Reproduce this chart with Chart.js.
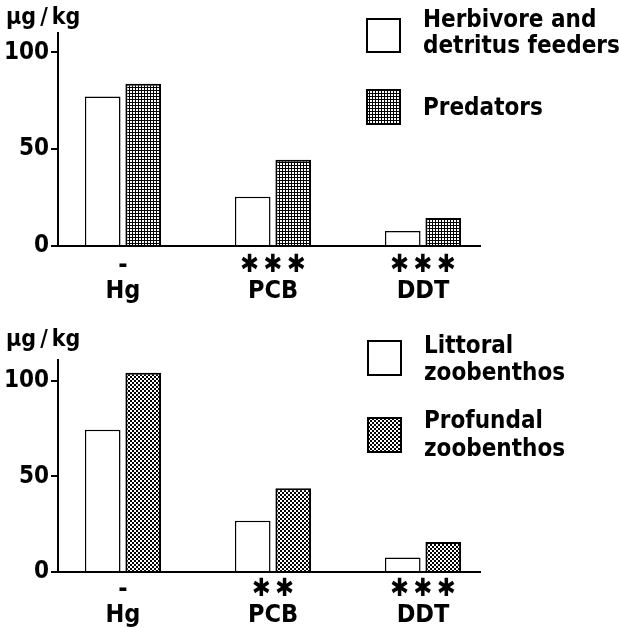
<!DOCTYPE html>
<html><head><meta charset="utf-8">
<script src="https://cdn.jsdelivr.net/npm/chart.js@4.4.1/dist/chart.umd.min.js"></script>
<style>html,body{margin:0;padding:0;background:#fff;} .w{position:relative;width:619px;height:314px;} canvas{display:block}</style>
</head><body>
<div class="w"><canvas id="c1" width="619" height="314"></canvas></div>
<div class="w"><canvas id="c2" width="619" height="314"></canvas></div>
<script>
// ---- data ----
const categories = ['Hg', 'PCB', 'DDT'];
const topSignificance = ['-', '✱\u2009✱\u2009✱', '✱\u2009✱\u2009✱'];
const bottomSignificance = ['-', '✱\u2009✱', '✱\u2009✱\u2009✱'];
const herbivoreValues = [77.2, 25.4, 7.8];
const predatorValues = [83.8, 44.5, 14.5];
const littoralValues = [74.4, 26.8, 7.6];
const profundalValues = [104.3, 43.9, 15.7];
const yTickValues = [0, 50, 100];
const unitLabel = 'µg\u2009/\u2009kg';
const topLegendLines = [['Herbivore and', 'detritus feeders'], ['Predators']];
const bottomLegendLines = [['Littoral', 'zoobenthos'], ['Profundal', 'zoobenthos']];

const FONT = "'DejaVu Sans Condensed', 'DejaVu Sans', sans-serif";

function gridPattern() {
  const c = document.createElement('canvas'); c.width = 3; c.height = 3;
  const x = c.getContext('2d');
  x.fillStyle = '#fff'; x.fillRect(0, 0, 3, 3);
  x.fillStyle = '#000'; x.fillRect(0, 0, 3, 1); x.fillRect(0, 0, 1, 3);
  return x.createPattern(c, 'repeat');
}
function dotPattern() {
  const c = document.createElement('canvas'); c.width = 4; c.height = 4;
  const x = c.getContext('2d');
  x.fillStyle = '#fff'; x.fillRect(0, 0, 4, 4);
  x.fillStyle = '#000'; x.fillRect(0, 0, 2, 2); x.fillRect(2, 2, 2, 2);
  return x.createPattern(c, 'repeat');
}

const legendPlugin = {
  id: 'boxLegend',
  afterDraw(chart, args, opts) {
    const ctx = chart.ctx;
    ctx.save();
    chart.data.datasets.forEach((ds, i) => {
      const it = opts.items[i];
      ctx.fillStyle = ds.backgroundColor;
      ctx.fillRect(it.box[0], it.box[1], it.box[2], it.box[3]);
      ctx.strokeStyle = '#000'; ctx.lineWidth = 2;
      ctx.strokeRect(it.box[0] + 1, it.box[1] + 1, it.box[2] - 2, it.box[3] - 2);
      ctx.fillStyle = '#000';
      ctx.font = 'bold 24px ' + FONT;
      ctx.textBaseline = 'alphabetic';
      ctx.textAlign = 'left';
      ds.legendLines.forEach((line, k) => ctx.fillText(line, opts.textX, it.baselines[k]));
    });
    ctx.restore();
  }
};

function makeChart(id, v1, v2, fill2, lines, sig, yMax, titlePad, axisHeight, tickPad, legendOpts) {
  const pts = vals => vals.map((v, i) => ({ x: i, y: v }));
  return new Chart(document.getElementById(id), {
    type: 'bar',
    data: {
      datasets: [
        { label: lines[0].join(' '), legendLines: lines[0], data: pts(v1), backgroundColor: '#fff', borderColor: '#000', borderWidth: 1.5 },
        { label: lines[1].join(' '), legendLines: lines[1], data: pts(v2), backgroundColor: fill2, borderColor: '#000', borderWidth: 2 }
      ]
    },
    options: {
      responsive: false,
      animation: false,
      layout: { padding: { left: 6, right: 139, top: 0, bottom: 0 } },
      datasets: { bar: { categoryPercentage: 0.54, barPercentage: 0.88 } },
      scales: {
        x: {
          type: 'linear', min: -0.433, max: 2.38, offset: false,
          grid: { display: false, drawTicks: false, tickLength: 0 },
          border: { display: true, color: '#000', width: 2 },
          afterBuildTicks: s => { s.ticks = categories.map((c, i) => ({ value: i })); },
          afterFit: s => { s.height = axisHeight; },
          ticks: {
            autoSkip: false, maxRotation: 0, minRotation: 0, padding: tickPad, color: '#000',
            font: { family: FONT, size: 25, weight: 'bold', lineHeight: 1.04 },
            callback: v => [sig[v], categories[v]]
          }
        },
        y: {
          min: 0, max: yMax,
          afterBuildTicks: s => { s.ticks = yTickValues.map(v => ({ value: v })); },
          afterFit: s => { s.width = 52; },
          grid: { drawOnChartArea: false, drawTicks: true, tickLength: 7, color: '#000', lineWidth: 2 },
          border: { display: true, color: '#000', width: 2 },
          ticks: { color: '#000', padding: 2, font: { family: FONT, size: 24, weight: 'bold' } }
        }
      },
      plugins: {
        legend: { display: false },
        tooltip: { enabled: false },
        title: { display: true, text: unitLabel, align: 'start', color: '#000', font: { family: FONT, size: 23, weight: 'bold', lineHeight: 1.15 }, padding: titlePad },
        boxLegend: legendOpts
      }
    },
    plugins: [legendPlugin]
  });
}

makeChart('c1', herbivoreValues, predatorValues, gridPattern(), topLegendLines, topSignificance, 110,
  { top: 5, bottom: 1.5 }, 68, 6,
  { textX: 423, items: [ { box: [366, 18, 35, 35], baselines: [27, 53] }, { box: [366, 89, 35, 36], baselines: [115] } ] });

makeChart('c2', littoralValues, profundalValues, dotPattern(), bottomLegendLines, bottomSignificance, 111,
  { top: 13, bottom: 6.5 }, 56, 4,
  { textX: 424, items: [ { box: [367, 26, 35, 36], baselines: [39, 66] }, { box: [367, 103, 35, 36], baselines: [114, 142] } ] });
</script>
</body></html>
